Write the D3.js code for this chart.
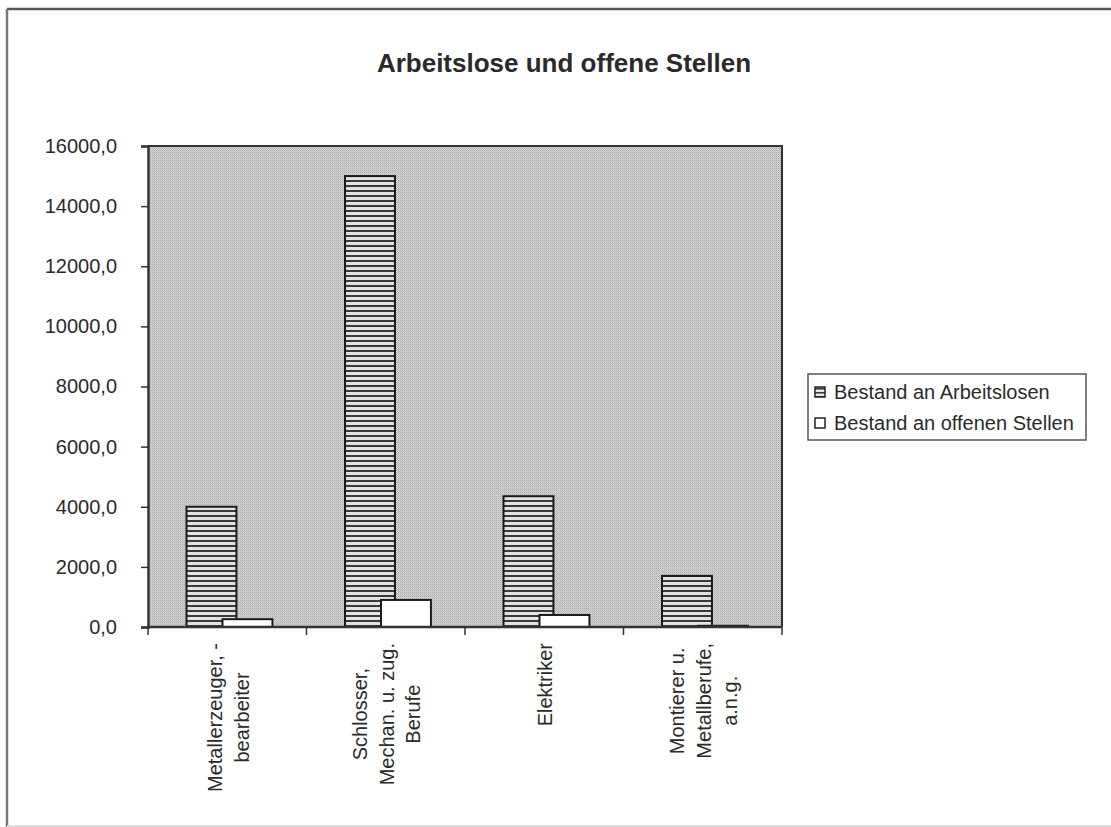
<!DOCTYPE html>
<html>
<head>
<meta charset="utf-8">
<script src="https://cdn.jsdelivr.net/npm/d3@7"></script>
<style>
  html, body { margin: 0; padding: 0; background: #fff; }
  svg { display: block; }
  text { font-family: "Liberation Sans", Arial, sans-serif; fill: #2a2a2a; }
</style>
</head>
<body>
<svg id="chart" width="1111" height="827"></svg>
<script>
const categories = [
  ["Metallerzeuger, -", "bearbeiter"],
  ["Schlosser,", "Mechan. u. zug.", "Berufe"],
  ["Elektriker"],
  ["Montierer u.", "Metallberufe,", "a.n.g."]
];
const seriesNames = ["Bestand an Arbeitslosen", "Bestand an offenen Stellen"];
const arbeitslose = [4000, 15000, 4350, 1700];
const offeneStellen = [260, 900, 400, 40];
const yTicks = [0, 2000, 4000, 6000, 8000, 10000, 12000, 14000, 16000];
const title = "Arbeitslose und offene Stellen";

const svg = d3.select("#chart");
const defs = svg.append("defs");

// stippled gray background
const bg = defs.append("pattern").attr("id", "stipple")
  .attr("width", 2).attr("height", 2).attr("patternUnits", "userSpaceOnUse");
bg.append("rect").attr("width", 2).attr("height", 2).attr("fill", "#d6d6d6");
bg.append("rect").attr("width", 1).attr("height", 1).attr("fill", "#ababab");
bg.append("rect").attr("x", 1).attr("y", 1).attr("width", 1).attr("height", 1).attr("fill", "#bcbcbc");

// horizontal stripes for bars
const st = defs.append("pattern").attr("id", "stripes")
  .attr("width", 4).attr("height", 5).attr("patternUnits", "userSpaceOnUse");
st.append("rect").attr("width", 4).attr("height", 5).attr("fill", "#e2e2e2");
st.append("rect").attr("y", 0).attr("width", 4).attr("height", 2).attr("fill", "#3a3a3a");

const legSt = defs.append("pattern").attr("id", "legstripes")
  .attr("width", 4).attr("height", 4).attr("patternUnits", "userSpaceOnUse");
legSt.append("rect").attr("width", 4).attr("height", 4).attr("fill", "#e8e8e8");
legSt.append("rect").attr("y", 0).attr("width", 4).attr("height", 1.5).attr("fill", "#333");

// outer frame
svg.append("line").attr("x1", 7).attr("x2", 1111).attr("y1", 9).attr("y2", 9)
  .attr("stroke", "#555").attr("stroke-width", 2.5);
svg.append("line").attr("x1", 7).attr("x2", 7).attr("y1", 9).attr("y2", 827)
  .attr("stroke", "#777").attr("stroke-width", 2.5);
svg.append("line").attr("x1", 7).attr("x2", 1111).attr("y1", 826).attr("y2", 826)
  .attr("stroke", "#ddd").attr("stroke-width", 2);

// title
svg.append("text").attr("x", 564).attr("y", 72).attr("text-anchor", "middle")
  .style("font-size", "26px").style("font-weight", "bold").text(title);

const plot = { left: 148, right: 782, top: 146, bottom: 627 };
const x = d3.scaleBand().domain(d3.range(categories.length))
  .range([plot.left, plot.right]).padding(0);
const y = d3.scaleLinear().domain([0, 16000]).range([plot.bottom, plot.top]);
const bw = x.bandwidth();

// plot background
svg.append("rect").attr("x", plot.left).attr("y", plot.top)
  .attr("width", plot.right - plot.left).attr("height", plot.bottom - plot.top)
  .attr("fill", "url(#stipple)");

// bars
const barW = bw * 0.315;
svg.append("g").selectAll("rect").data(arbeitslose).join("rect")
  .attr("x", (d, i) => x(i) + bw * 0.243)
  .attr("y", d => y(d))
  .attr("width", barW)
  .attr("height", d => y(0) - y(d))
  .attr("fill", "url(#stripes)")
  .attr("stroke", "#1a1a1a").attr("stroke-width", 2);

svg.append("g").selectAll("rect").data(offeneStellen).join("rect")
  .attr("x", (d, i) => x(i) + bw * 0.47)
  .attr("y", d => y(d))
  .attr("width", barW)
  .attr("height", d => y(0) - y(d))
  .attr("fill", "#fff")
  .attr("stroke", "#1a1a1a").attr("stroke-width", 2);

// plot frame (top and right)
svg.append("path")
  .attr("d", `M${plot.left},${plot.top}H${plot.right}V${plot.bottom}`)
  .attr("fill", "none").attr("stroke", "#333").attr("stroke-width", 2);

// y axis
const fmt = v => d3.format(".1f")(v).replace(".", ",");
const yAxis = svg.append("g").attr("transform", `translate(${plot.left},0)`)
  .call(d3.axisLeft(y).tickValues(yTicks).tickFormat(fmt).tickSize(7).tickPadding(24));
yAxis.select(".domain").attr("stroke", "#333").attr("stroke-width", 2.5);
yAxis.selectAll(".tick line").attr("stroke", "#333").attr("stroke-width", 1.5);
yAxis.selectAll("text").style("font-size", "20px").attr("fill", "#2a2a2a")
  .style("font-family", "'Liberation Sans', Arial, sans-serif");

// x axis
const xAxis = svg.append("g").attr("transform", `translate(0,${plot.bottom})`);
xAxis.append("line").attr("x1", plot.left).attr("x2", plot.right)
  .attr("stroke", "#333").attr("stroke-width", 2.5);
const bounds = d3.range(categories.length + 1).map(i => i < categories.length ? x(i) : plot.right);
xAxis.selectAll("line.tk").data(bounds).join("line").attr("class", "tk")
  .attr("x1", d => d).attr("x2", d => d).attr("y1", 0).attr("y2", 8)
  .attr("stroke", "#333").attr("stroke-width", 1.5);

// x labels, rotated
const lineH = 26.5;
const labelTop = 643;
categories.forEach((lines, i) => {
  const cx = x(i) + bw / 2 + 1;
  const g = svg.append("g").attr("transform", `translate(${cx},0) rotate(-90)`);
  const t = g.append("text").attr("text-anchor", "middle").style("font-size", "20px");
  lines.forEach((ln, j) => {
    t.append("tspan").attr("x", 0)
      .attr("y", (j - (lines.length - 1) / 2) * lineH + 7)
      .text(ln);
  });
  let maxW = 0;
  t.selectAll("tspan").each(function () { maxW = Math.max(maxW, this.getComputedTextLength()); });
  t.selectAll("tspan").attr("x", -(labelTop + maxW / 2));
});

// legend
const leg = svg.append("g");
leg.append("rect").attr("x", 808).attr("y", 374).attr("width", 278).attr("height", 66)
  .attr("fill", "#fff").attr("stroke", "#555").attr("stroke-width", 1.5);
const legFills = ["url(#legstripes)", "#fff"];
seriesNames.forEach((name, i) => {
  const cy = 392 + i * 31;
  leg.append("rect").attr("x", 815).attr("y", cy - 5).attr("width", 10).attr("height", 10)
    .attr("fill", legFills[i]).attr("stroke", "#222").attr("stroke-width", 1.5);
  leg.append("text").attr("x", 834).attr("y", cy + 7).style("font-size", "20px").text(name);
});
</script>
</body>
</html>
